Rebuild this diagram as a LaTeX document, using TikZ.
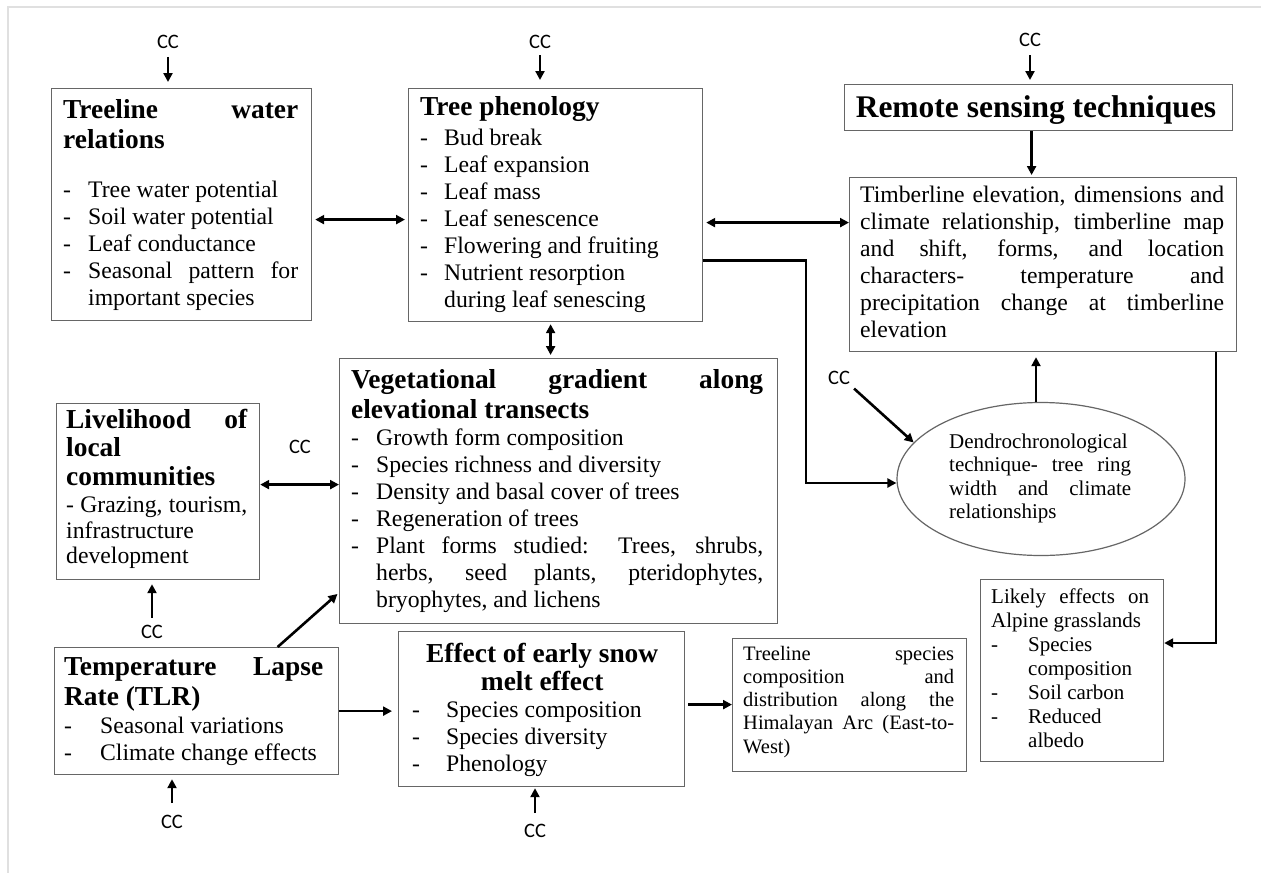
\documentclass[tikz,border=0pt]{standalone}
\usepackage{fontspec}
\setmainfont{Liberation Serif}
\newfontfamily\ccfont{Carlito}
\usetikzlibrary{arrows.meta,shapes.geometric}
\newcommand{\ditem}[2]{\par\hangindent=#1\hangafter=1\noindent\makebox[#1][l]{-}#2}
\newcommand{\bodyfont}{\fontsize{23.7}{27}\selectfont}
\newcommand{\headfont}{\fontsize{27.4}{30}\selectfont\bfseries}
\newcommand{\smallfont}{\fontsize{21}{23.5}\selectfont}
\definecolor{boxgray}{gray}{0.4}
\definecolor{framegray}{gray}{0.88}
\begin{document}
\begin{tikzpicture}[x=1pt,y=-1pt,
  box/.style={draw=boxgray,line width=1.2pt,inner sep=0pt,anchor=north west},
  txt/.style={inner sep=0pt,anchor=base west,align=justify,font=\bodyfont},
  cc/.style={font=\ccfont\fontsize{20.5}{24}\selectfont,inner sep=1pt},
  arr/.style={line width=2.6pt,-{Triangle[length=9pt,width=9pt]}},
  darr/.style={line width=2.6pt,{Triangle[length=9pt,width=9pt]}-{Triangle[length=9pt,width=9pt]}}]
\fill[white] (0,0) rectangle (1261,873);
\useasboundingbox (0,0) rectangle (1261,873);
\draw[framegray,line width=1.5pt] (8,873) -- (8,7) -- (1261,7);

% boxes
\node[box,minimum width=260pt,minimum height=232pt] (wat) at (51,88) {};
\node[box,minimum width=294pt,minimum height=233pt] (phen) at (408,88) {};
\node[box,minimum width=388pt,minimum height=46pt] (rs) at (844,84) {};
\node[box,minimum width=387pt,minimum height=174pt] (tim) at (849,177) {};
\node[draw=boxgray,line width=1.2pt,ellipse,minimum width=288pt,minimum height=153pt,inner sep=0pt] (ell) at (1041,479) {};
\node[box,minimum width=183pt,minimum height=182pt] (lik) at (980,579) {};
\node[box,minimum width=234pt,minimum height=133pt] (tsp) at (732,638) {};
\node[box,minimum width=203pt,minimum height=176pt] (liv) at (56,403) {};
\node[box,minimum width=438pt,minimum height=265pt] (veg) at (339,358) {};
\node[box,minimum width=284pt,minimum height=127pt] (tlr) at (54,647) {};
\node[box,minimum width=286pt,minimum height=155pt] (eff) at (398,631) {};

% texts
\node[txt,text width=235pt] (watT) at (63,118) {{\headfont Treeline water\linebreak relations\par}\vspace{22pt}\ditem{25pt}{Tree water potential}\ditem{25pt}{Soil water potential}\ditem{25pt}{Leaf conductance}\ditem{25pt}{Seasonal pattern for\linebreak important species}\par};
\node[txt,text width=270pt] (phenT) at (420,115) {{\headfont Tree phenology\par}\vspace{3pt}\ditem{24pt}{Bud break}\ditem{24pt}{Leaf expansion}\ditem{24pt}{Leaf mass}\ditem{24pt}{Leaf senescence}\ditem{24pt}{Flowering and fruiting}\ditem{24pt}{Nutrient resorption\newline during leaf senescing}\par};
\node[inner sep=0pt,anchor=base,font=\fontsize{31.5}{34}\selectfont\bfseries] (rsT) at (1036,117) {Remote sensing techniques};
\node[txt,text width=364pt] (timT) at (860,202) {Timberline elevation, dimensions and\linebreak climate relationship, timberline map\linebreak and shift, forms, and location\linebreak characters- temperature and\linebreak precipitation change at timberline\linebreak elevation\par};
\node[txt,text width=182pt,font=\smallfont] (ellT) at (949,448) {Dendrochronological\newline technique- tree ring\linebreak width and climate\linebreak relationships\par};
\node[txt,text width=158pt,font=\fontsize{21}{24}\selectfont] (likT) at (991,603) {Likely effects on\linebreak Alpine grasslands\ditem{37pt}{Species\newline composition}\ditem{37pt}{Soil carbon}\ditem{37pt}{Reduced\newline albedo}\par};
\node[txt,text width=211pt,font=\fontsize{20.5}{23.3}\selectfont] (tspT) at (743,660) {Treeline species\linebreak composition and\linebreak distribution along the\linebreak Himalayan Arc (East-to-\linebreak West)\par};
\node[txt,text width=181pt,font=\fontsize{23.7}{25.5}\selectfont] (livT) at (66,428) {{\fontsize{27.4}{28.5}\selectfont\bfseries Livelihood of\linebreak local\newline communities\par}\vspace{2pt}- Grazing, tourism,\linebreak infrastructure\newline development\par};
\node[txt,text width=412pt] (vegT) at (351,388) {{\headfont Vegetational gradient along\linebreak elevational transects\par}\ditem{25pt}{Growth form composition}\ditem{25pt}{Species richness and diversity}\ditem{25pt}{Density and basal cover of trees}\ditem{25pt}{Regeneration of trees}\ditem{25pt}{Plant forms studied: Trees, shrubs,\linebreak herbs, seed plants, pteridophytes,\linebreak bryophytes, and lichens}\par};
\node[txt,text width=259pt] (tlrT) at (64,675) {{\headfont Temperature Lapse\linebreak Rate (TLR)\par}\vspace{1pt}\ditem{36pt}{Seasonal variations}\ditem{36pt}{Climate change effects}\par};
\node[txt,text width=260pt] (effT) at (412,662) {{\fontsize{27.4}{28}\selectfont\bfseries\centering Effect of early snow\par melt effect\par}\ditem{34pt}{Species composition}\ditem{34pt}{Species diversity}\ditem{34pt}{Phenology}\par};

% CC labels
\node[cc] (cc1) at (168,42) {CC};
\node[cc] (cc2) at (540,42) {CC};
\node[cc] (cc3) at (1030,40) {CC};
\node[cc] (cc4) at (300,447) {CC};
\node[cc] (cc5) at (152,632) {CC};
\node[cc] (cc6) at (839,378) {CC};
\node[cc] (cc7) at (172,822) {CC};
\node[cc] (cc8) at (535,831) {CC};

% CC arrows
\draw[arr,shorten <=7pt,shorten >=6pt] (cc1.south) -- (cc1.south |- wat.north);
\draw[arr,shorten <=5.5pt,shorten >=8pt] (cc2.south) -- (cc2.south |- phen.north);
\draw[arr,shorten <=7.5pt,shorten >=4pt] (cc3.south) -- (cc3.south |- rs.north);
\draw[arr,shorten <=6.5pt,shorten >=4pt] (cc5.north) -- (cc5.north |- liv.south);
\draw[arr,shorten <=11pt,shorten >=4pt] (cc7.north) -- (cc7.north |- tlr.south);
\draw[arr,shorten <=10pt,shorten >=1pt] (cc8.north) -- (cc8.north |- eff.south);
\draw[arr,shorten <=4pt] (cc6.south east) -- (ell.164);

% connectors
\draw[darr,shorten <=3pt,shorten >=3pt] ([yshift=-15pt]wat.east) -- ([yshift=-15pt]wat.east -| phen.west);
\draw[darr,shorten <=3pt] ([yshift=-17.5pt]phen.east) -- ([yshift=-17.5pt]phen.east -| tim.west);
\draw[arr,shorten >=2pt] ([xshift=-7pt]rs.south) -- ([xshift=-7pt]rs.south |- tim.north);
\coordinate (k1) at (806,483);
\draw[arr] ([yshift=-55.5pt]phen.east) -| (k1) -- (ell.west |- k1);
\draw[arr,shorten >=5pt] ([xshift=-5pt]ell.north) -- ([xshift=-5pt]ell.north |- tim.south);
\coordinate (k2) at (1216,643);
\draw[arr] (tim.south -| k2) -- (k2) -- (k2 -| lik.east);
\draw[darr,shorten <=2pt,shorten >=3pt] ([xshift=-5pt]phen.south) -- ([xshift=-5pt]phen.south |- veg.north);
\draw[darr] ([yshift=7pt]liv.east) -- ([yshift=7pt]liv.east -| veg.west);
\draw[arr,shorten >=2pt] ([xshift=81pt]tlr.north) -- ([yshift=-101.5pt]veg.west);
\draw[arr,shorten >=6pt] (tlr.east) -- (tlr.east -| eff.west);
\draw[arr,shorten <=3pt] ([yshift=4.5pt]eff.east) -- ([yshift=4.5pt]eff.east -| tsp.west);
\end{tikzpicture}
\end{document}
